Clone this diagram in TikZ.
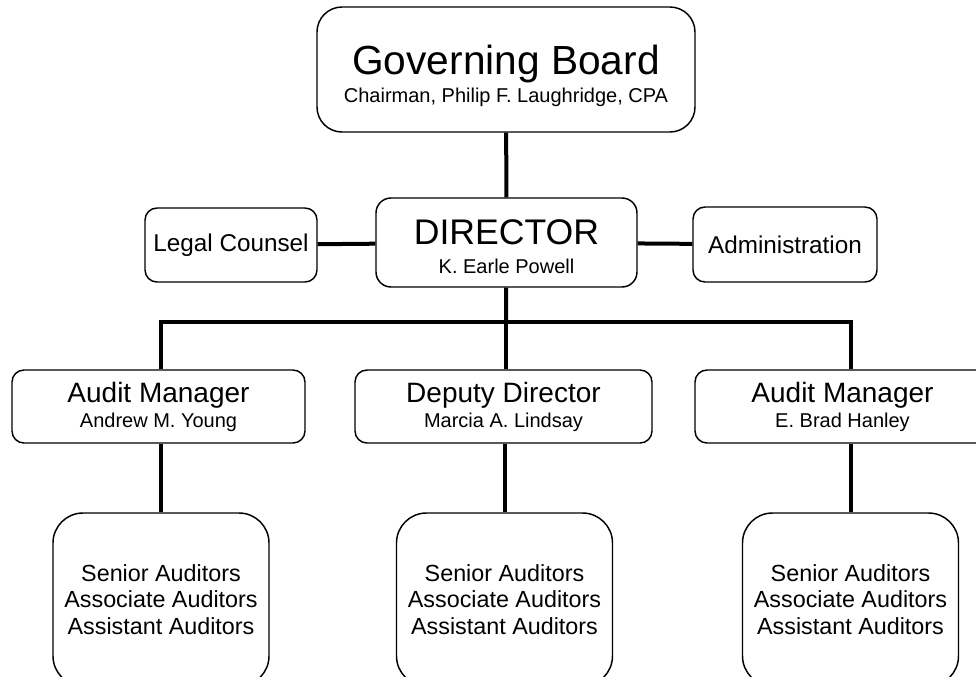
\documentclass[tikz,border=0pt]{standalone}
\usepackage{fontspec}
\setmainfont{Liberation Sans}

\tikzset{
   org box/.style={
      draw,
      line width=1.1pt,
      align=center,
      inner sep=0pt
   },
   org link/.style={line width=3pt}
}

\begin{document}
\begin{tikzpicture}[x=0.75pt, y=-0.75pt]
   \clip (0,0) rectangle (976,676);

   \node[org box, rounded corners=18.75pt,
      minimum width=283.5pt, minimum height=93.75pt,
      font=\fontsize{15}{21}\selectfont]
      (board) at (506,69.5)
      {{\fontsize{30.5}{36}\selectfont\rule{0pt}{31pt}Governing Board}\\Chairman, Philip F. Laughridge, CPA};

   \node[org box, rounded corners=11.25pt,
      minimum width=195.75pt, minimum height=66.75pt,
      font=\fontsize{15}{21.5}\selectfont]
      (director) at (506.5,242.5)
      {{\fontsize{26.7}{32}\selectfont\rule{0pt}{25pt}DIRECTOR}\\K. Earle Powell};

   \node[org box, rounded corners=9pt,
      minimum width=129pt, minimum height=55.5pt,
      font=\fontsize{18.2}{22}\selectfont]
      (legal) at (231,245) {Legal Counsel};

   \node[org box, rounded corners=9pt,
      minimum width=138pt, minimum height=56.25pt,
      font=\fontsize{18.2}{22}\selectfont]
      (admin) at (785,244.5) {Administration};

   % second row
   \node[org box, rounded corners=9pt,
      minimum width=219.75pt, minimum height=54.75pt,
      font=\fontsize{15}{18.75}\selectfont]
      (managerA) at (158.5,406.5)
      {{\fontsize{21}{25}\selectfont Audit Manager}\\Andrew M. Young};

   \node[org box, rounded corners=9pt,
      minimum width=222.75pt, minimum height=54.75pt,
      font=\fontsize{15}{18.75}\selectfont]
      (deputy) at (503.5,406.5)
      {{\fontsize{21}{25}\selectfont Deputy Director}\\Marcia A. Lindsay};

   \node[org box, rounded corners=9pt,
      minimum width=221.25pt, minimum height=54.75pt,
      font=\fontsize{15}{18.75}\selectfont]
      (managerB) at (842.5,406.5)
      {{\fontsize{21}{25}\selectfont Audit Manager}\\E. Brad Hanley};

   % staff boxes
   \foreach \name/\x in {staffA/161, staffB/504.5, staffC/850.5}
   \node[org box, rounded corners=22.5pt,
      minimum width=162pt, minimum height=129.75pt,
      font=\fontsize{17.5}{19.7}\selectfont]
      (\name) at (\x,599.5)
      {Senior Auditors\\Associate Auditors\\Assistant Auditors};

   \coordinate (bus) at (506,322);

   \draw[org link] (board) -- (director);
   \draw[org link] (legal) -- (director);
   \draw[org link] (director) -- (admin);
   \draw[org link] (director) -- (bus);
   \draw[org link] (managerA.north -| staffA.north) |- (bus)
      -| (staffC.north |- managerB.north);
   \draw[org link] (bus) -- (bus |- deputy.north);

   \draw[org link] (staffA.north) -- (staffA.north |- managerA.south);
   \draw[org link] (staffB.north) -- (staffB.north |- deputy.south);
   \draw[org link] (staffC.north) -- (staffC.north |- managerB.south);

\end{tikzpicture}
\end{document}
